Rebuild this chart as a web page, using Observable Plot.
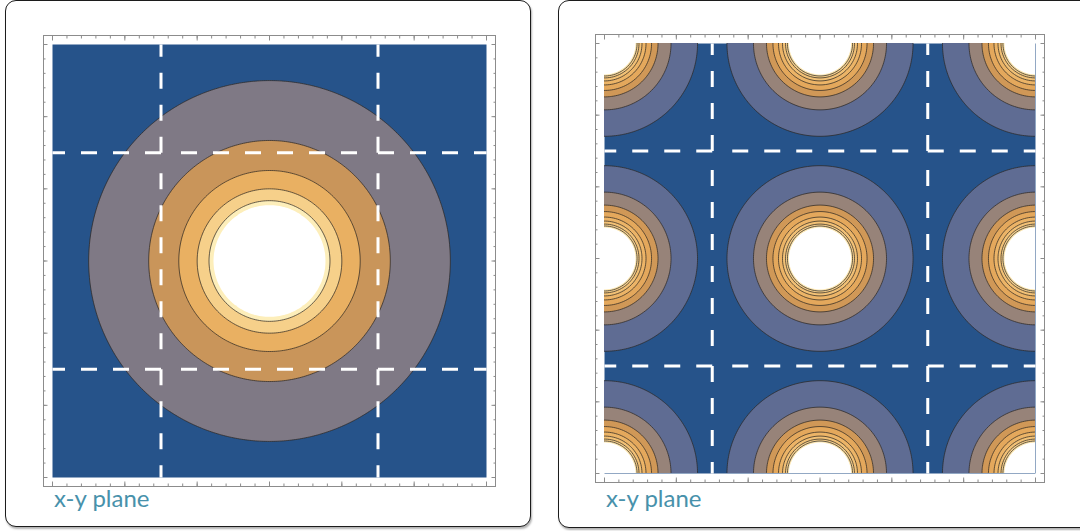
<!DOCTYPE html>
<html>
<head>
<meta charset="utf-8">
<script src="https://cdn.jsdelivr.net/npm/d3@7"></script>
<script src="https://cdn.jsdelivr.net/npm/@observablehq/plot@0.6"></script>
<style>
  html, body { margin: 0; padding: 0; background: #fff; width: 1080px; height: 531px; overflow: hidden; }
  #stage { position: relative; width: 1080px; height: 531px; }
  .card { position: absolute; box-sizing: border-box; border: 1.6px solid #1c1c1c; border-radius: 11px; background: #fff; box-shadow: 1px 2px 2px rgba(0,0,0,0.3); }
  .panel { position: absolute; top: 0; }
  .caption { position: absolute; font-family: Lato, "Open Sans", sans-serif; font-size: 24px; line-height: 24px; color: #4891ab; white-space: nowrap; }
</style>
</head>
<body>
<div id="stage">
  <div class="card" style="left:5px; top:0px; width:526px; height:527px;"></div>
  <div class="card" style="left:558px; top:0px; width:540px; height:528px;"></div>
  <div id="left" class="panel" style="left:0px;"></div>
  <div id="right" class="panel" style="left:540px;"></div>
  <div class="caption" style="left:54px; top:486px;">x-y plane</div>
  <div class="caption" style="left:606px; top:486px;">x-y plane</div>
</div>
<script>
// ---- shared axes / guides ----
const extent = [-3, 3];
const guides = [-1.5, 1.5];
const majorTicks = [-3, -2, -1, 0, 1, 2, 3];
const minorTicks = [-3, -2.8, -2.6, -2.4, -2.2, -2, -1.8, -1.6, -1.4, -1.2, -1, -0.8, -0.6, -0.4, -0.2, 0,
                    0.2, 0.4, 0.6, 0.8, 1, 1.2, 1.4, 1.6, 1.8, 2, 2.2, 2.4, 2.6, 2.8, 3];
const background = "#26538a";

// ---- left panel: single centred source, band radii ----
const leftCenters = [0];
const leftRadii  = [2.50, 1.67, 1.254, 1.0, 0.836];
const leftColors = ["#7f7985", "#c9955a", "#e9b062", "#f6d08a", "#fdeeba"];
const leftCutoff = 0.774;

// ---- right panel: lattice of sources, band radii ----
const rightCenters = [-3, 0, 3];
const rightRadii  = [1.295, 0.926, 0.745, 0.655, 0.578, 0.522, 0.480, 0.453];
const rightColors = ["#5f6c93", "#978379", "#d09857", "#e4a85c", "#ecb467", "#f2c176", "#f6cf8b", "#fce6b0"];
const rightCutoff = 0.432;

function nearestDistance(centers) {
  return (x, y) => {
    let m = Infinity;
    for (const cx of centers) for (const cy of centers) m = Math.min(m, Math.hypot(x - cx, y - cy));
    return m;
  };
}

function guideSegments() {
  const segs = [];
  const [lo, hi] = guides;
  for (const g of guides) {
    segs.push({x1: g, y1: hi, x2: g, y2: extent[1], mid: false});
    segs.push({x1: g, y1: lo, x2: g, y2: extent[0], mid: false});
    segs.push({x1: g, y1: lo, x2: g, y2: hi, mid: true});
    segs.push({x1: lo, y1: g, x2: extent[0], y2: g, mid: false});
    segs.push({x1: hi, y1: g, x2: extent[1], y2: g, mid: false});
    segs.push({x1: lo, y1: g, x2: hi, y2: g, mid: true});
  }
  return segs;
}

function panel({radii, colors, cutoff, centers, margins}) {
  const dist = nearestDistance(centers);
  const thresholds = radii.map(r => -r);
  const pad = 0.25;
  const segs = guideSegments();
  const axisStyle = {stroke: "#8c8c8c", tickFormat: () => "", label: null};
  return Plot.plot({
    width: 540,
    height: 531,
    ...margins,
    style: {background: "transparent", overflow: "visible"},
    x: {domain: extent},
    y: {domain: extent},
    color: {type: "ordinal", domain: thresholds, range: colors},
    marks: [
      Plot.frame({fill: background, stroke: null}),
      Plot.contour({
        x1: extent[0] - pad, x2: extent[1] + pad, y1: extent[0] - pad, y2: extent[1] + pad,
        value: (x, y) => -dist(x, y),
        thresholds,
        fill: "value",
        stroke: "#2a2522",
        strokeOpacity: 0.8,
        strokeWidth: 0.9,
        clip: true
      }),
      Plot.contour({
        x1: extent[0] - pad, x2: extent[1] + pad, y1: extent[0] - pad, y2: extent[1] + pad,
        value: (x, y) => -dist(x, y),
        thresholds: [-cutoff],
        fill: "white",
        stroke: null,
        clip: true
      }),
      Plot.link(segs.filter(d => !d.mid), {
        x1: "x1", y1: "y1", x2: "x2", y2: "y2",
        stroke: "white", strokeWidth: 3, strokeDasharray: "16,16"
      }),
      Plot.link(segs.filter(d => d.mid), {
        x1: "x1", y1: "y1", x2: "x2", y2: "y2",
        stroke: "white", strokeWidth: 3,
        strokeDasharray: "0,20,16,16,16,16,16,16,16,16,16,16,16,60"
      }),
      Plot.frame({inset: -9, stroke: "#8c8c8c", fill: "none"}),
      Plot.axisX(minorTicks, {anchor: "bottom", tickSize: -2.5, dy: 9, ...axisStyle}),
      Plot.axisX(majorTicks, {anchor: "bottom", tickSize: -4.5, dy: 9, ...axisStyle}),
      Plot.axisX(minorTicks, {anchor: "top", tickSize: -2.5, dy: -9, ...axisStyle}),
      Plot.axisX(majorTicks, {anchor: "top", tickSize: -4.5, dy: -9, ...axisStyle}),
      Plot.axisY(minorTicks, {anchor: "left", tickSize: -2.5, dx: -9, ...axisStyle}),
      Plot.axisY(majorTicks, {anchor: "left", tickSize: -4.5, dx: -9, ...axisStyle}),
      Plot.axisY(minorTicks, {anchor: "right", tickSize: -2.5, dx: 9, ...axisStyle}),
      Plot.axisY(majorTicks, {anchor: "right", tickSize: -4.5, dx: 9, ...axisStyle})
    ]
  });
}

document.getElementById("left").appendChild(panel({
  radii: leftRadii, colors: leftColors, cutoff: leftCutoff, centers: leftCenters,
  margins: {marginLeft: 52, marginRight: 54, marginTop: 44, marginBottom: 54}
}));
document.getElementById("right").appendChild(panel({
  radii: rightRadii, colors: rightColors, cutoff: rightCutoff, centers: rightCenters,
  margins: {marginLeft: 64, marginRight: 45, marginTop: 43, marginBottom: 58}
}));
</script>
</body>
</html>
